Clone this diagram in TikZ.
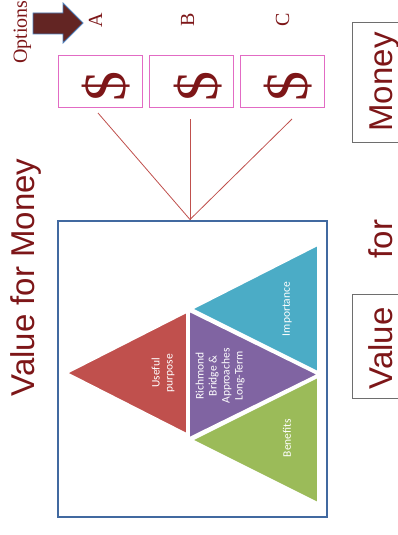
\documentclass[tikz,border=0pt]{standalone}
\usepackage{fontspec}
\setmainfont{Liberation Serif}
\newfontfamily\arialf{Liberation Sans}
\newfontfamily\calib{Carlito}
\definecolor{maroonc}{RGB}{125,22,24}
\definecolor{arrowfill}{RGB}{99,37,35}
\definecolor{arrowedge}{RGB}{79,129,189}
\definecolor{pinkc}{RGB}{226,107,196}
\definecolor{linec}{RGB}{192,80,77}
\definecolor{framec}{RGB}{65,105,160}
\definecolor{grayc}{RGB}{110,110,110}
\definecolor{tred}{RGB}{192,80,77}
\definecolor{tpurple}{RGB}{128,100,162}
\definecolor{tteal}{RGB}{75,172,198}
\definecolor{tgreen}{RGB}{155,187,89}
\begin{document}
\begin{tikzpicture}[x=1pt,y=-1pt,
  rottext/.style={rotate=90,anchor=base,inner sep=0pt,text=maroonc},
  dbox/.style={draw=pinkc,line width=1pt,minimum width=84pt,minimum height=51pt,inner sep=0pt},
  graybox/.style={draw=grayc,line width=0.9pt,inner sep=0pt},
  conn/.style={draw=linec,line width=0.8pt},
  tri/.style={draw=white,line width=1.6pt,line join=miter},
  tlabel/.style={rotate=90,text=white,font=\calib\fontsize{11.5}{13}\selectfont,align=center,inner sep=0pt}]
\useasboundingbox (0,0) rectangle (398,535);
\fill[white] (0,0) rectangle (398,535);

% Options + arrow
\node[rottext,font=\fontsize{20}{22}\selectfont] (opt) at (27,32) {Options};
\filldraw[fill=arrowfill,draw=arrowedge,line width=0.8pt] (33,13) -- (63,13) -- (63,3) -- (83,23) -- (63,43) -- (63,34) -- (33,34) -- cycle;

% letters
\node[rottext,font=\fontsize{20}{22}\selectfont] (la) at (102,20) {A};
\node[rottext,font=\fontsize{20}{22}\selectfont] (lb) at (194,20) {B};
\node[rottext,font=\fontsize{20}{22}\selectfont] (lc) at (289,20) {C};

% dollar boxes
\node[dbox] (box1) at (100,81.5) {};
\node[dbox] (box2) at (191,81.5) {};
\node[dbox] (box3) at (282.5,81.5) {};
\node[rottext,font=\fontsize{60}{62}\selectfont] (d1) at (125,86.5) {\$};
\node[rottext,font=\fontsize{60}{62}\selectfont] (d2) at (217,86) {\$};
\node[rottext,font=\fontsize{60}{62}\selectfont] (d3) at (307,86) {\$};

% connectors
\coordinate (s1) at (98,113);
\coordinate (s2) at (190,119);
\coordinate (s3) at (292,119);
\coordinate (apex) at (190,219.5);
\draw[conn] (s1) -- (apex);
\draw[conn] (s2) -- (apex);
\draw[conn] (s3) -- (apex);

% frame
\node[draw=framec,line width=1.3pt,minimum width=269pt,minimum height=296pt,inner sep=0pt] (frame) at (192.5,369) {};

% triangles
\filldraw[tri,fill=tred] (67,373) -- (187,312) -- (187,434) -- cycle;
\filldraw[tri,fill=tpurple] (189,311) -- (189,438) -- (318,374.5) -- cycle;
\filldraw[tri,fill=tteal] (192,309) -- (318,245) -- (318,372) -- cycle;
\filldraw[tri,fill=tgreen] (192,440) -- (318,377) -- (318,503) -- cycle;

\node[tlabel] (tu) at (163,373) {Useful\\purpose};
\node[tlabel] (tr) at (220,376) {Richmond\\Bridge \&\\Approaches\\Long-Term};
\node[tlabel] (ti) at (287,309) {Importance};
\node[tlabel] (tb) at (287,438) {Benefits};

% title
\node[rottext,font=\arialf\fontsize{33}{35}\selectfont] (title) at (34,277.5) {Value for Money};

% right side
\draw[graybox] (420,22) -- (352,22) -- (352,142) -- (420,142);
\draw[graybox] (420,294) -- (352,294) -- (352,398) -- (420,398);
\node[rottext,font=\arialf\fontsize{33}{35}\selectfont] (money) at (392,82) {Money};
\node[rottext,font=\arialf\fontsize{33}{35}\selectfont] (for) at (392,239) {for};
\node[rottext,font=\arialf\fontsize{33}{35}\selectfont] (value) at (392,348.5) {Value};
\end{tikzpicture}
\end{document}
